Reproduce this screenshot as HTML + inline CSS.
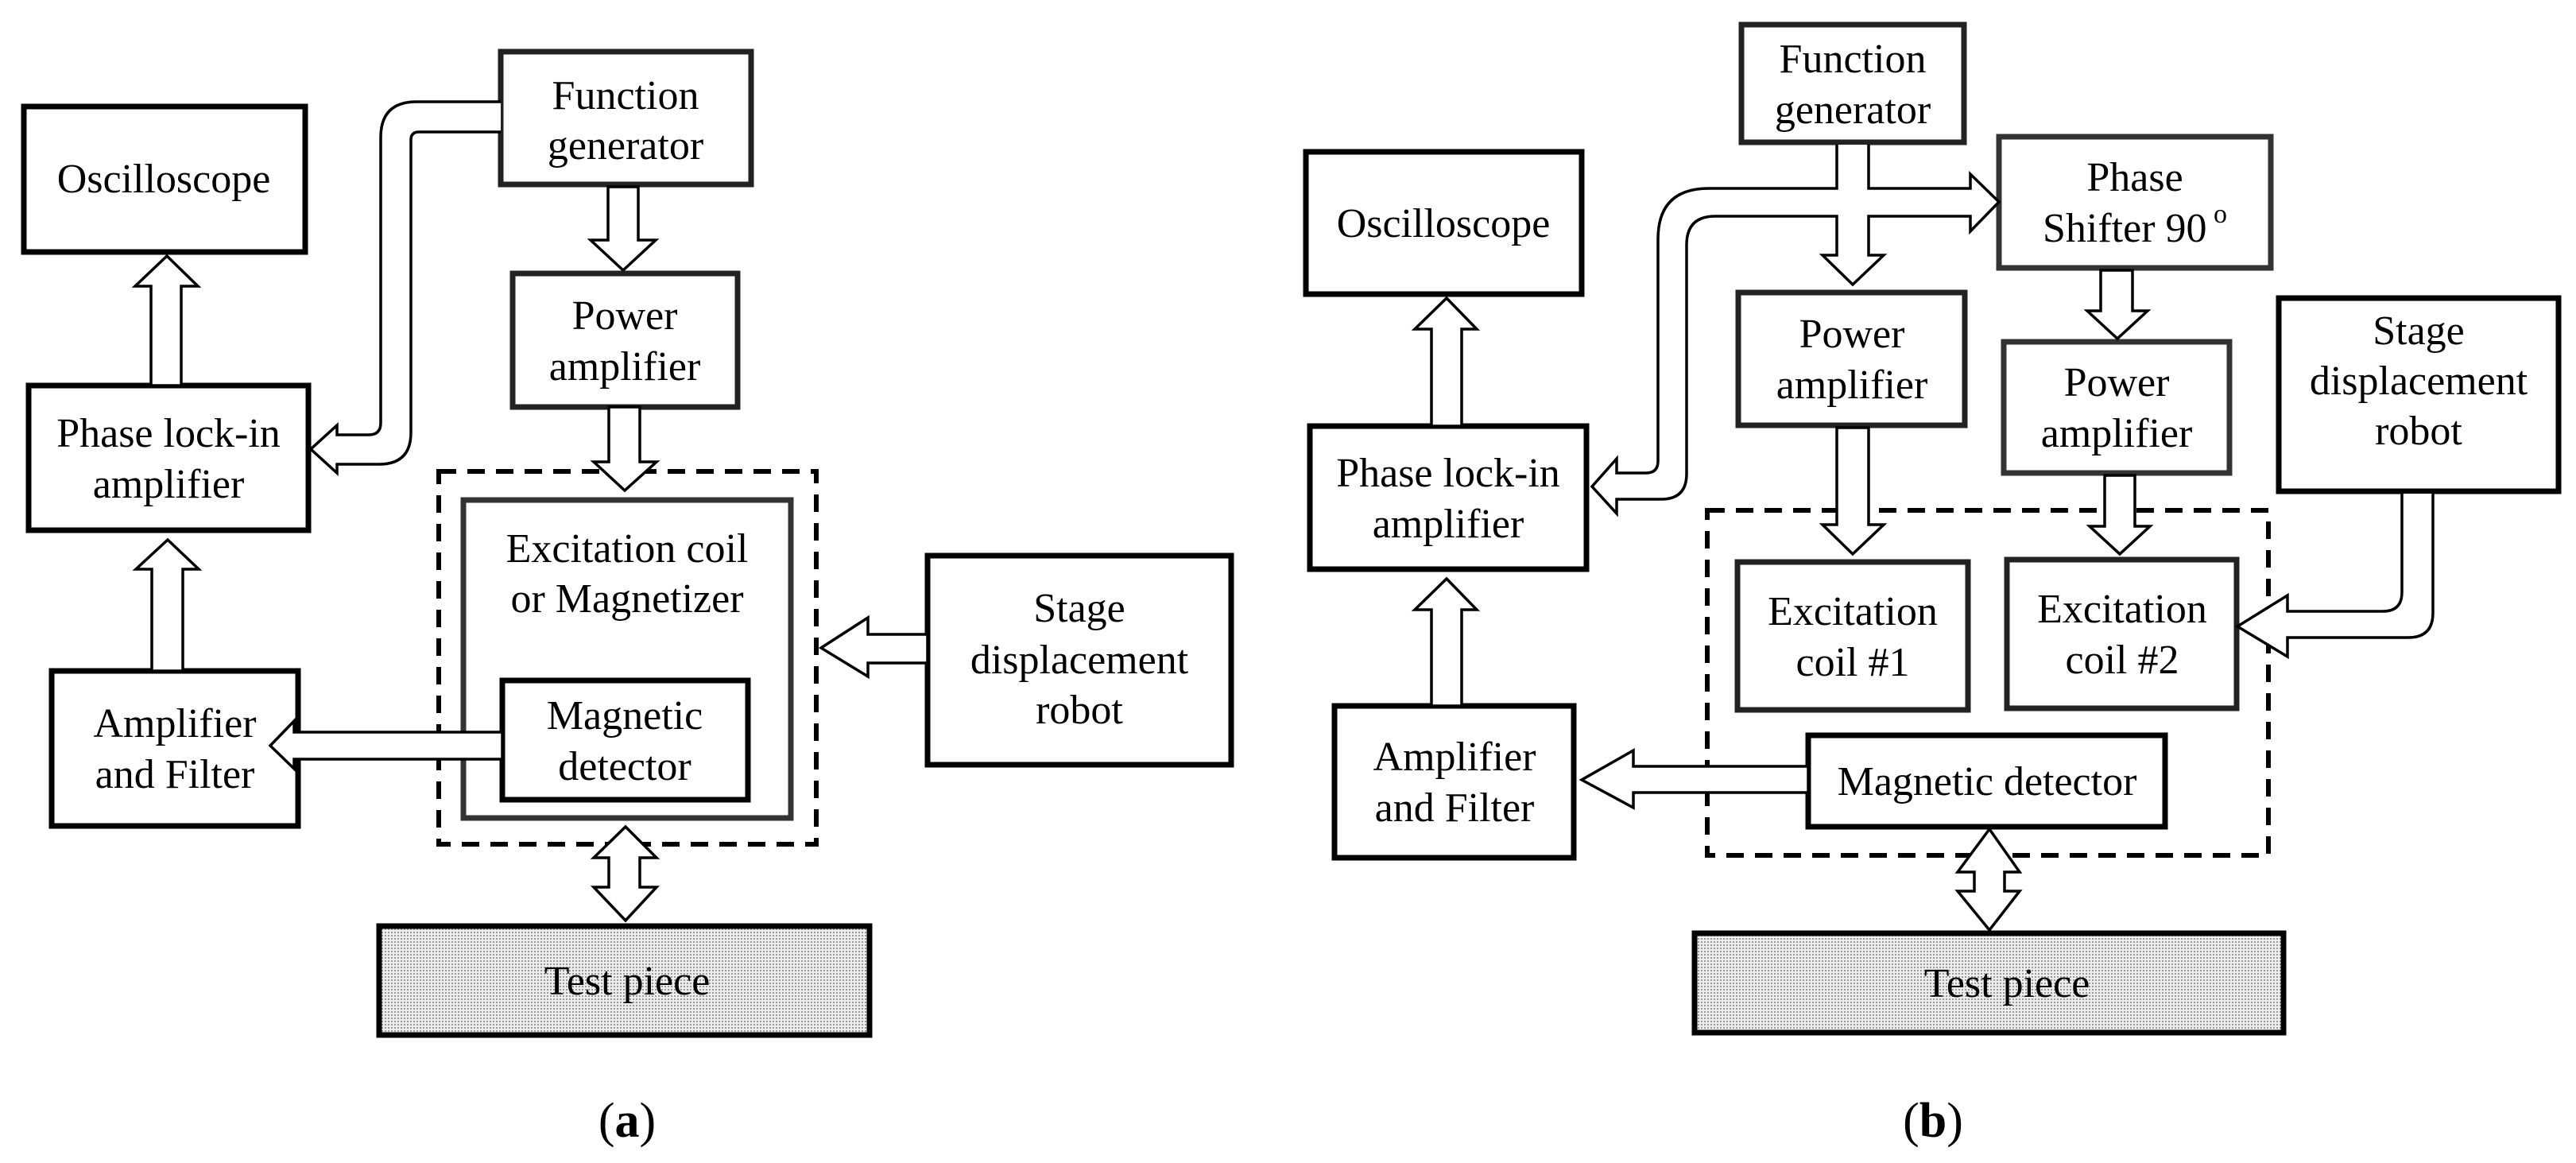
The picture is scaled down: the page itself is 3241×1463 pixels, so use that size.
<!DOCTYPE html>
<html><head><meta charset="utf-8"><style>
html,body{margin:0;padding:0;background:#fff;}
svg{display:block;}
text{font-family:"Liberation Serif",serif;font-size:52px;text-anchor:middle;fill:#000;}
</style></head><body>
<svg width="3241" height="1463" viewBox="0 0 3241 1463" xmlns="http://www.w3.org/2000/svg">
<defs>
<pattern id="dots" width="4" height="4" patternUnits="userSpaceOnUse">
<rect width="4" height="4" fill="#eee"/><rect width="2" height="2" fill="#999"/>
</pattern>
</defs>
<g fill="#fff" stroke="#000" stroke-width="7">
<!-- panel a -->
<rect x="30" y="134" width="354" height="183"/>
<rect x="630" y="65" width="315" height="167" stroke="#222"/>
<rect x="645" y="344" width="283" height="168" stroke="#222"/>
<rect x="36" y="485" width="352" height="182"/>
<rect x="65" y="844" width="310" height="195"/>
<rect x="583" y="629" width="412" height="400" stroke="#333"/>
<rect x="632" y="856" width="309" height="150"/>
<rect x="1167" y="699" width="382" height="263"/>
<rect x="477" y="1165" width="617" height="137" fill="url(#dots)"/>
<!-- panel b -->
<rect x="2191" y="31" width="280" height="148" stroke="#222"/>
<rect x="2515" y="172" width="342" height="165" stroke="#333"/>
<rect x="1643" y="191" width="347" height="179"/>
<rect x="2187" y="368" width="285" height="167" stroke="#222"/>
<rect x="2521" y="430" width="284" height="165" stroke="#333"/>
<rect x="2867" y="375" width="352" height="243"/>
<rect x="1648" y="536" width="348" height="180"/>
<rect x="1679" y="888" width="301" height="191"/>
<rect x="2186" y="707" width="290" height="186" stroke="#222"/>
<rect x="2525" y="704" width="289" height="187" stroke="#222"/>
<rect x="2275" y="925" width="449" height="115"/>
<rect x="2132" y="1174" width="741" height="125" fill="url(#dots)"/>
</g>
<g fill="none" stroke="#000" stroke-width="6" stroke-dasharray="22,14">
<rect x="552" y="593" width="475" height="469"/>
<rect x="2148" y="642" width="706" height="434"/>
</g>
<g fill="#fff" stroke="#000" stroke-width="3.5" stroke-linejoin="miter">
<!-- a arrows -->
<polygon points="190,485 228,485 228,360 249,360 210,322 170,360 190,360"/>
<polygon points="191,844 230,844 230,716 250,716 211,679 171,716 191,716"/>
<polygon points="765,235 803,235 803,302 825,302 784,340 743,302 765,302"/>
<polygon points="766,512 805,512 805,581 826,581 786,617 747,581 766,581"/>
<polygon points="1167,798 1092,798 1092,777 1033,815 1092,851 1092,834 1167,834"/>
<polygon points="632,921 370,921 370,907 340,938 370,967 370,955 632,955"/>
<polygon points="766,1079 747,1079 787,1040 826,1079 805,1079 805,1116 826,1116 787,1158 747,1116 766,1116"/>
<path d="M630,128 H524 Q479,128 479,173 V532 Q479,547 464,547 H424 V535 L391,565 L424,595 V584 H477 Q517,584 517,544 V176 Q517,166 527,166 H630"/>
<!-- b arrows -->
<path d="M2311,182 V237 H2150 Q2086,237 2086,301 V580 Q2086,595 2071,595 H2034 V577 L2003,612 L2034,646 V628 H2090 Q2122,628 2122,596 V308 Q2122,272 2158,272 H2311 V321 H2293 L2331,358 L2370,321 H2351 V272 H2479 V291 L2515,254 L2479,219 V237 H2351 V182"/>
<polygon points="2643,340 2683,340 2683,391 2702,391 2664,426 2626,391 2643,391"/>
<polygon points="2311,538 2351,538 2351,660 2370,660 2331,697 2293,660 2311,660"/>
<polygon points="2648,598 2686,598 2686,662 2705,662 2667,697 2629,662 2648,662"/>
<polygon points="1801,536 1839,536 1839,414 1858,414 1820,375 1780,414 1801,414"/>
<polygon points="1801,888 1839,888 1839,767 1858,767 1820,728 1780,767 1801,767"/>
<polygon points="2275,964 2055,964 2055,944 1990,981 2055,1016 2055,997 2275,997"/>
<path d="M3022,621 V745 Q3022,769 2998,769 H2878 V749 L2815,788 L2878,826 V802 H3030 Q3061,802 3061,771 V621"/>
<polygon points="2484,1097 2463,1097 2503,1043 2541,1097 2522,1097 2522,1121 2541,1121 2503,1170 2463,1121 2484,1121"/>
</g>
<!-- text a -->
<text x="206" y="242">Oscilloscope</text>
<text x="787" y="137">Function</text><text x="787" y="200">generator</text>
<text x="786" y="414">Power</text><text x="786" y="478">amplifier</text>
<text x="212" y="562">Phase lock-in</text><text x="212" y="626">amplifier</text>
<text x="220" y="927">Amplifier</text><text x="220" y="991">and Filter</text>
<text x="789" y="707">Excitation coil</text><text x="789" y="770">or Magnetizer</text>
<text x="786" y="917">Magnetic</text><text x="786" y="981">detector</text>
<text x="1358" y="782">Stage</text><text x="1358" y="847">displacement</text><text x="1358" y="910">robot</text>
<text x="789" y="1251">Test piece</text>
<text x="789" y="1430" style="font-size:62px">(<tspan font-weight="bold">a</tspan>)</text>
<!-- text b -->
<text x="2331" y="91">Function</text><text x="2331" y="155">generator</text>
<text x="2686" y="240">Phase</text><text x="2686" y="304">Shifter 90<tspan dy="-24" font-size="34"> o</tspan></text>
<text x="1816" y="298">Oscilloscope</text>
<text x="2330" y="437">Power</text><text x="2330" y="501">amplifier</text>
<text x="2663" y="498">Power</text><text x="2663" y="562">amplifier</text>
<text x="3043" y="433">Stage</text><text x="3043" y="496">displacement</text><text x="3043" y="559">robot</text>
<text x="1822" y="612">Phase lock-in</text><text x="1822" y="676">amplifier</text>
<text x="1830" y="969">Amplifier</text><text x="1830" y="1033">and Filter</text>
<text x="2331" y="786">Excitation</text><text x="2331" y="850">coil #1</text>
<text x="2670" y="783">Excitation</text><text x="2670" y="847">coil #2</text>
<text x="2500" y="1000">Magnetic detector</text>
<text x="2525" y="1254">Test piece</text>
<text x="2432" y="1430" style="font-size:62px">(<tspan font-weight="bold">b</tspan>)</text>
</svg>
</body></html>
